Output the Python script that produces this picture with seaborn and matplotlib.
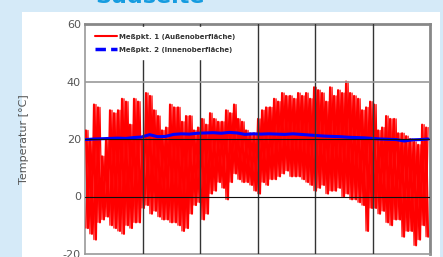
import numpy as np
import pandas as pd
import matplotlib
matplotlib.use("Agg")
import matplotlib.pyplot as plt
import seaborn as sns
from matplotlib.patches import Rectangle
from matplotlib.lines import Line2D

# ---- data ----
title = "Südseite"
ylabel = "Temperatur [°C]"
series_names = ["Meßpkt. 1 (Außenoberfläche)", "Meßpkt. 2 (Innenoberfläche)"]
y_ticks = [-20, 0, 20, 40, 60]
x_ticks = [0, 60, 120, 180, 240, 300, 360]

# outer surface: daily maxima and minima (°C)
outer_max = [23, 20, 32, 31, 14, 20, 30, 29, 30, 34, 33, 25, 34, 33, 20, 36, 35, 30, 28, 23,
             24, 32, 31, 31, 26, 28, 28, 23, 24, 27, 25, 29, 27, 26, 26, 30, 29, 32, 27, 26,
             23, 22, 22, 27, 30, 31, 31, 34, 33, 36, 35, 35, 34, 36, 35, 36, 34, 38, 37, 36,
             33, 38, 35, 37, 36, 40, 36, 35, 34, 30, 31, 33, 32, 23, 24, 28, 27, 27, 22, 22,
             21, 20, 19, 18, 25, 24]
outer_min = [-11, -13, -15, -9, -8, -7, -10, -11, -12, -13, -10, -11, -9, -9, -4, -3, -6, -5, -7, -8,
             -8, -9, -9, -10, -12, -11, -6, -3, -2, -8, -6, 1, 2, 5, 3, -1, 5, 8, 6, 5,
             5, 4, 2, 1, 5, 4, 6, 6, 7, 8, 9, 7, 7, 7, 6, 5, 4, 2, 3, 4,
             1, 2, 2, 3, 0, 1, -1, -1, -2, -3, -12, -4, -4, -6, -5, -9, -10, -8, -8, -14,
             -12, -12, -17, -15, -10, -14]
# inner surface (°C)
inner = [19.8, 20.0, 20.1, 20.2, 20.3, 20.2, 20.5, 20.7, 21.5, 20.8, 20.9, 21.6, 21.8, 21.7,
         22.0, 22.1, 22.2, 22.0, 22.3, 22.1, 21.6, 21.8, 21.7, 21.8, 21.7, 21.6, 21.8, 21.6,
         21.4, 21.2, 21.0, 20.9, 20.8, 20.6, 20.5, 20.4, 20.2, 20.0, 19.9, 19.8, 19.3, 19.7,
         19.8, 20.0]

# ---- build tables ----
zig_a = np.ravel(np.column_stack([outer_max, outer_min]))   # max, min, max, min ...
zig_b = np.ravel(np.column_stack([outer_min, outer_max]))   # min, max, min, max ...
days_outer = np.linspace(1, 358, len(zig_a))
df_outer_a = pd.DataFrame({"day": days_outer, "temp": zig_a})
df_outer_b = pd.DataFrame({"day": days_outer, "temp": zig_b})
df_inner = pd.DataFrame({"day": np.linspace(1, 358, len(inner)), "temp": inner})

sns.set_style("white")
plt.rcParams["font.family"] = ["DejaVu Sans"]

W, H = 443, 257
fig = plt.figure(figsize=(W / 100, H / 100), dpi=100)
fig.patch.set_facecolor("#d5eaf8")
fig.add_artist(Rectangle((22 / W, 0), 418 / W, (H - 12) / H, transform=fig.transFigure,
                         facecolor="white", edgecolor="none", zorder=0))

fig.text(95 / W, 1 - 3 / H, title, color="#169ce0", fontsize=16, fontweight="bold",
         va="baseline", ha="left")

ax = fig.add_axes([85 / W, 1 - 254 / H, 345 / W, 230 / H])
ax.set_facecolor("white")

sns.lineplot(data=df_outer_a, x="day", y="temp", ax=ax, color="#ff0000", linewidth=1.5,
             estimator=None, sort=False, zorder=3)
sns.lineplot(data=df_outer_b, x="day", y="temp", ax=ax, color="#ff0000", linewidth=0.9,
             estimator=None, sort=False, zorder=3)
sns.lineplot(data=df_inner, x="day", y="temp", ax=ax, color="#0000ff", linewidth=2.2,
             estimator=None, sort=False, zorder=4)

ax.set_xlim(0, 360)
ax.set_ylim(-20, 60)
ax.set_xticks(x_ticks)
ax.set_xticklabels([])
ax.set_yticks(y_ticks)
ax.set_yticklabels([str(v) for v in y_ticks], fontsize=8, color="#555555")
ax.tick_params(axis="y", length=0, pad=3)
ax.tick_params(axis="x", length=0)
ax.set_xlabel("")
ax.set_ylabel(ylabel, fontsize=8, color="#555555", labelpad=24)

for xv in x_ticks[1:-1]:
    ax.axvline(xv, color="#333333", linewidth=1.0, zorder=5)
for yv in [0, 20]:
    ax.axhline(yv, color="#111111", linewidth=0.8, zorder=5)
ax.axhline(40, color="#999999", linewidth=1.2, zorder=5)

for side in ["top", "right"]:
    ax.spines[side].set_color("#888888")
    ax.spines[side].set_linewidth(2.0)
for side in ["left", "bottom"]:
    ax.spines[side].set_color("#999999")
    ax.spines[side].set_linewidth(1.2)

handles = [Line2D([], [], color="#ff0000", linewidth=1.5),
           Line2D([], [], color="#0000ff", linewidth=2.5, linestyle=(0, (3, 1.5)))]
leg = ax.legend(handles, series_names, loc="upper left", bbox_to_anchor=(0.0, 1.0),
                fontsize=5, frameon=True, facecolor="white", edgecolor="white",
                framealpha=1.0, handlelength=3.2, handletextpad=0.3, borderpad=0.9,
                labelspacing=1.0, fancybox=False)
leg.set_zorder(10)
for t in leg.get_texts():
    t.set_color("#333333")
    t.set_fontweight("bold")

fig.savefig("out.png", dpi=100, facecolor=fig.get_facecolor())
